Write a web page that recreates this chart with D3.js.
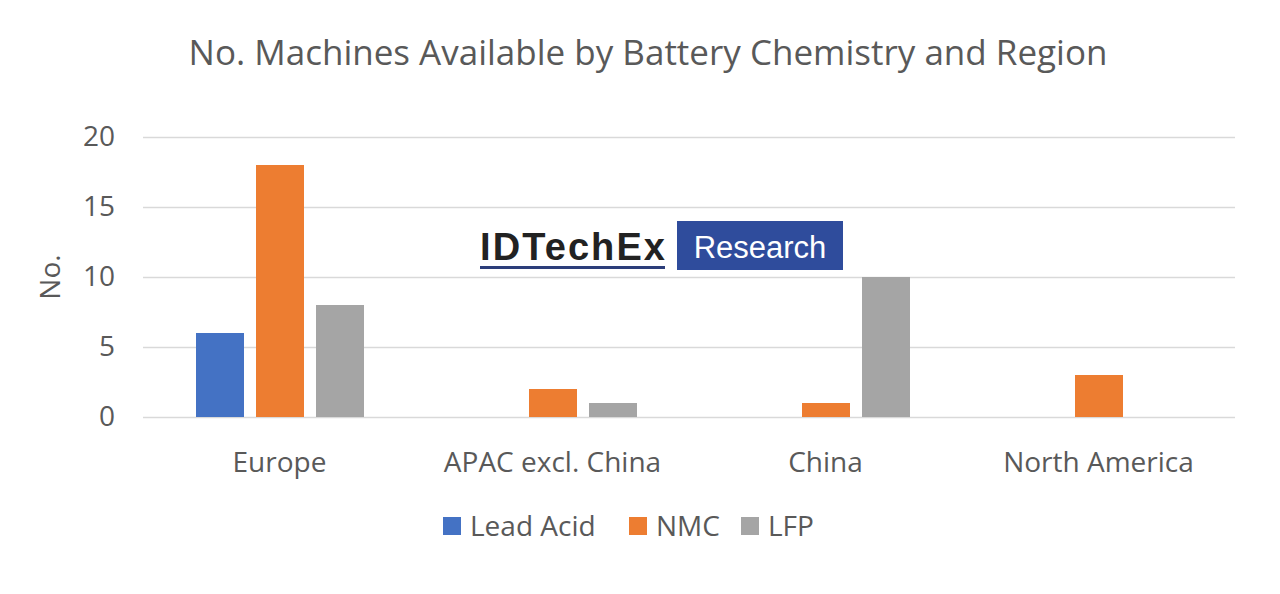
<!DOCTYPE html>
<html><head><meta charset="utf-8">
<script src="https://cdn.jsdelivr.net/npm/d3@7"></script>
<style>body{margin:0;background:#fff;font-family:"Open Sans",sans-serif}</style>
</head><body>
<script>
var regions = ["Europe", "APAC excl. China", "China", "North America"];
var series = ["Lead Acid", "NMC", "LFP"];
var leadAcid = [6, 0, 0, 0];
var nmc = [18, 2, 1, 3];
var lfp = [8, 1, 10, 0];
var yTicks = [0, 5, 10, 15, 20];
var colors = ["#4472C4", "#ED7D31", "#A5A5A5"];

var width = 1280, height = 594;
var svg = d3.select("body").append("svg").attr("width", width).attr("height", height);

var x = d3.scaleBand().domain(regions).range([143, 1235]);
var xs = d3.scaleBand().domain(series).range([53, 221]).paddingInner(0.2);
var y = d3.scaleLinear().domain([0, 20]).range([417, 137]);

svg.append("text").attr("x", 648).attr("y", 65).attr("text-anchor", "middle")
  .attr("font-size", 35).attr("fill", "#595959")
  .text("No. Machines Available by Battery Chemistry and Region");

var ax = svg.append("g").attr("transform", "translate(143,0)")
  .call(d3.axisLeft(y).tickValues(yTicks).tickSize(-1092).tickPadding(28));
ax.select(".domain").remove();
ax.selectAll("line").attr("stroke", "#d9d9d9").attr("stroke-width", 1.5);
ax.selectAll("text").attr("font-size", 28).attr("fill", "#595959").attr("font-family", "Open Sans");

svg.append("text").attr("transform", "translate(60,277) rotate(-90)").attr("text-anchor", "middle")
  .attr("font-size", 28).attr("fill", "#595959").text("No.");

// logo
svg.append("text").attr("x", 480).attr("y", 260).attr("font-size", 38).attr("font-weight", "bold")
  .attr("font-family", "Liberation Sans").attr("fill", "#222").attr("textLength", 185).text("IDTechEx");
svg.append("rect").attr("x", 480).attr("y", 266).attr("width", 185).attr("height", 3).attr("fill", "#2c3e7a");
svg.append("rect").attr("x", 677).attr("y", 221).attr("width", 166).attr("height", 49).attr("fill", "#2f4c9c");
svg.append("text").attr("x", 760).attr("y", 258).attr("text-anchor", "middle").attr("font-size", 31)
  .attr("font-family", "Liberation Sans").attr("fill", "#fff").text("Research");

var data = [leadAcid, nmc, lfp];
series.forEach(function(s, i) {
  svg.append("g").selectAll("rect").data(regions).enter().append("rect")
    .attr("x", function(r) { return x(r) + xs(s); })
    .attr("width", xs.bandwidth())
    .attr("y", function(r, j) { return y(data[i][j]); })
    .attr("height", function(r, j) { return y(0) - y(data[i][j]); })
    .attr("fill", colors[i]);
});

svg.append("g").selectAll("text").data(regions).enter().append("text")
  .attr("x", function(r) { return x(r) + x.bandwidth() / 2; }).attr("y", 472)
  .attr("text-anchor", "middle").attr("font-size", 28).attr("fill", "#595959").text(function(d) { return d; });

var legX = [443, 629, 741];
series.forEach(function(s, i) {
  svg.append("rect").attr("x", legX[i]).attr("y", 517).attr("width", 18).attr("height", 18).attr("fill", colors[i]);
  svg.append("text").attr("x", legX[i] + 27).attr("y", 536).attr("font-size", 28).attr("fill", "#595959").text(s);
});
</script>
</body></html>
